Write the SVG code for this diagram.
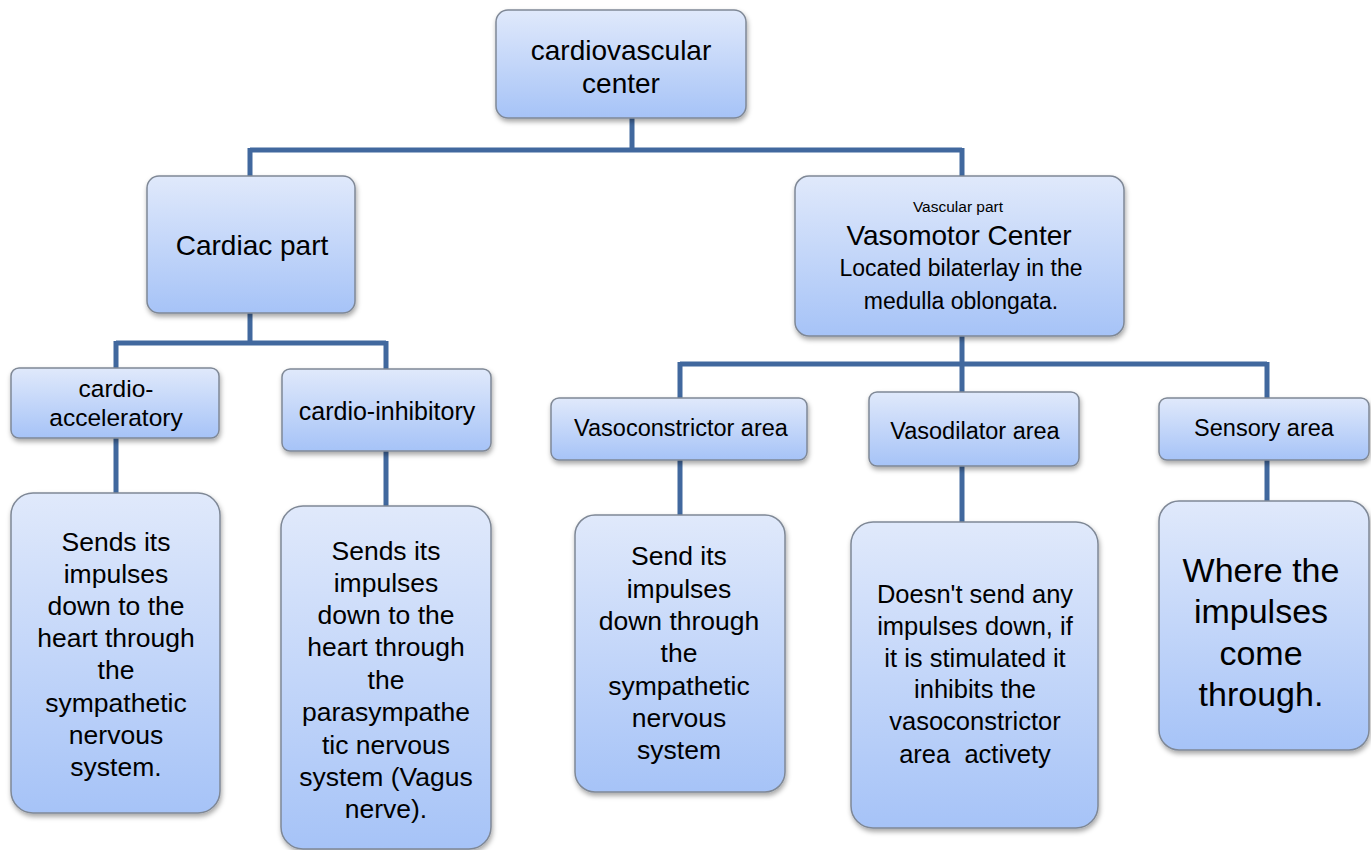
<svg xmlns="http://www.w3.org/2000/svg" width="1371" height="850" viewBox="0 0 1371 850">
<defs>
<linearGradient id="g" x1="0" y1="0" x2="0" y2="1">
<stop offset="0" stop-color="#e0e9fb"/>
<stop offset="1" stop-color="#a6c3f7"/>
</linearGradient>
<filter id="sh" x="-10%" y="-10%" width="130%" height="130%">
<feDropShadow dx="1" dy="3" stdDeviation="2.5" flood-color="#000" flood-opacity="0.35"/>
</filter>
</defs>
<style>
.box{fill:url(#g);stroke:#7f8896;stroke-width:1.5;filter:url(#sh)}
.t{font-family:"Liberation Sans",Arial,sans-serif;fill:#000;text-anchor:middle}
.c{stroke:#41689e;stroke-width:5;fill:none}
</style>
<rect width="1371" height="850" fill="#fff"/>
<g id="connectors">
<path class="c" d="M632 118V150M250 150H962M250 148V176M962 148V176"/>
<path class="c" d="M250 313V343M116 343H386M116 341V368M386 341V369"/>
<path class="c" d="M116 438V493M386 451V506"/>
<path class="c" d="M962 336V364M680 364H1267M680 362V398M962 362V392M1267 362V398"/>
<path class="c" d="M680 460V515M962 466V522M1267 460V501"/>
</g>
<g id="n-cardiovascular">
<rect class="box" x="496" y="10" width="250" height="108" rx="12"/>
<text class="t" font-size="28" x="621" y="60">cardiovascular</text>
<text class="t" font-size="28" x="621" y="93">center</text>
</g>
<g id="n-cardiac">
<rect class="box" x="147" y="176" width="208" height="137" rx="12"/>
<text class="t" font-size="28" x="252" y="255">Cardiac part</text>
</g>
<g id="n-vasomotor">
<rect class="box" x="795" y="176" width="329" height="160" rx="14"/>
<text class="t" font-size="15.5" x="958" y="212">Vascular part</text>
<text class="t" font-size="28" x="959" y="245">Vasomotor Center</text>
<text class="t" font-size="23" x="961" y="276">Located bilaterlay in the</text>
<text class="t" font-size="23" x="961" y="309">medulla oblongata.</text>
</g>
<g id="n-cardioacc">
<rect class="box" x="11" y="368" width="208" height="70" rx="8"/>
<text class="t" font-size="24.5" x="116" y="397">cardio-</text>
<text class="t" font-size="24.5" x="116" y="426">acceleratory</text>
</g>
<g id="n-cardioinh">
<rect class="box" x="282" y="369" width="209" height="82" rx="8"/>
<text class="t" font-size="25" x="387" y="420">cardio-inhibitory</text>
</g>
<g id="n-vasoconstrictor">
<rect class="box" x="551" y="398" width="256" height="62" rx="8"/>
<text class="t" font-size="23.5" x="681" y="436">Vasoconstrictor area</text>
</g>
<g id="n-vasodilator">
<rect class="box" x="869" y="392" width="210" height="74" rx="8"/>
<text class="t" font-size="23.5" x="975" y="439">Vasodilator area</text>
</g>
<g id="n-sensory">
<rect class="box" x="1159" y="398" width="210" height="62" rx="8"/>
<text class="t" font-size="23.5" x="1264" y="436">Sensory area</text>
</g>
<g id="n-acc-desc">
<rect class="box" x="11" y="493" width="209" height="320" rx="22"/>
<g class="t" font-size="26.5">
<text x="116" y="551">Sends its</text>
<text x="116" y="583">impulses</text>
<text x="116" y="615">down to the</text>
<text x="116" y="647">heart through</text>
<text x="116" y="679">the</text>
<text x="116" y="712">sympathetic</text>
<text x="116" y="744">nervous</text>
<text x="116" y="776">system.</text>
</g>
</g>
<g id="n-inh-desc">
<rect class="box" x="281" y="506" width="210" height="343" rx="22"/>
<g class="t" font-size="26.5">
<text x="386" y="560">Sends its</text>
<text x="386" y="592">impulses</text>
<text x="386" y="624">down to the</text>
<text x="386" y="656">heart through</text>
<text x="386" y="689">the</text>
<text x="386" y="721">parasympathe</text>
<text x="386" y="754">tic nervous</text>
<text x="386" y="786">system (Vagus</text>
<text x="386" y="818">nerve).</text>
</g>
</g>
<g id="n-vc-desc">
<rect class="box" x="575" y="515" width="210" height="277" rx="20"/>
<g class="t" font-size="26.5">
<text x="679" y="565">Send its</text>
<text x="679" y="598">impulses</text>
<text x="679" y="630">down through</text>
<text x="679" y="662">the</text>
<text x="679" y="695">sympathetic</text>
<text x="679" y="727">nervous</text>
<text x="679" y="759">system</text>
</g>
</g>
<g id="n-vd-desc">
<rect class="box" x="851" y="522" width="247" height="306" rx="22"/>
<g class="t" font-size="25.5">
<text x="975" y="603">Doesn't send any</text>
<text x="975" y="635">impulses down, if</text>
<text x="975" y="667">it is stimulated it</text>
<text x="975" y="698">inhibits the</text>
<text x="975" y="730">vasoconstrictor</text>
<text x="975" y="763" xml:space="preserve" style="white-space:pre">area  activety</text>
</g>
</g>
<g id="n-sensory-desc">
<rect class="box" x="1159" y="501" width="210" height="249" rx="20"/>
<g class="t" font-size="34">
<text x="1261" y="582">Where the</text>
<text x="1261" y="623">impulses</text>
<text x="1261" y="665">come</text>
<text x="1261" y="706">through.</text>
</g>
</g>
</svg>
